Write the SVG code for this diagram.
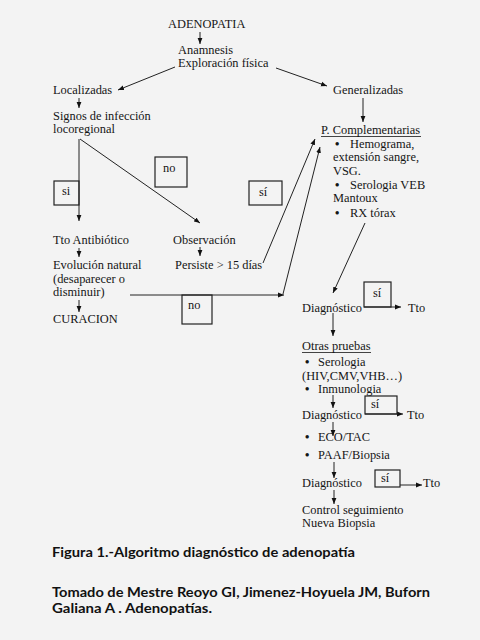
<svg xmlns="http://www.w3.org/2000/svg" width="480" height="640" viewBox="0 0 480 640">
<defs>
<style>
.t{font-family:"Liberation Serif","Times New Roman",serif;font-size:12.4px;fill:#151515}
.b{font-family:"Liberation Serif","Times New Roman",serif;font-size:12.4px;font-weight:bold;fill:#151515}
.c{font-family:Lato,"Open Sans",sans-serif;font-weight:bold;font-size:14px;fill:#111}
.ln{stroke:#222;stroke-width:1;fill:none}
.bx{stroke:#222;stroke-width:1.2;fill:none}
</style>
<marker id="ah" viewBox="0 0 10 10" refX="10" refY="5" markerWidth="6" markerHeight="6" orient="auto" markerUnits="userSpaceOnUse">
<path d="M0,1 L10,5 L0,9z" fill="#111"/>
</marker>
</defs>
<rect width="480" height="640" fill="#f3f3f3"/>

<g id="connectors">
<line class="ln" x1="200" y1="32" x2="200" y2="44" marker-end="url(#ah)"/>
<line class="ln" x1="175" y1="67" x2="118" y2="90" marker-end="url(#ah)"/>
<line class="ln" x1="276" y1="68" x2="327" y2="86" marker-end="url(#ah)"/>
<line class="ln" x1="79" y1="98" x2="79" y2="108" marker-end="url(#ah)"/>
<line class="ln" x1="363" y1="98" x2="363" y2="122" marker-end="url(#ah)"/>
<line class="ln" x1="79" y1="139" x2="79" y2="221" marker-end="url(#ah)"/>
<line class="ln" x1="80" y1="139" x2="200" y2="223" marker-end="url(#ah)"/>
<line class="ln" x1="79" y1="248" x2="79" y2="257" marker-end="url(#ah)"/>
<line class="ln" x1="200" y1="247" x2="200" y2="256" marker-end="url(#ah)"/>
<line class="ln" x1="79" y1="300" x2="79" y2="312" marker-end="url(#ah)"/>
<line class="ln" x1="263" y1="263" x2="315" y2="139" marker-end="url(#ah)"/>
<line class="ln" x1="130" y1="295" x2="284" y2="295" marker-end="url(#ah)"/>
<line class="ln" x1="283" y1="294" x2="320" y2="147" marker-end="url(#ah)"/>
<line class="ln" x1="365" y1="223" x2="333" y2="293" marker-end="url(#ah)"/>
<line class="ln" x1="364" y1="307" x2="401" y2="307" marker-end="url(#ah)"/>
<line class="ln" x1="333" y1="313" x2="333" y2="336" marker-end="url(#ah)"/>
<line class="ln" x1="333" y1="395" x2="333" y2="408" marker-end="url(#ah)"/>
<line class="ln" x1="365" y1="414" x2="403" y2="414" marker-end="url(#ah)"/>
<line class="ln" x1="333" y1="422" x2="333" y2="436" marker-end="url(#ah)"/>
<line class="ln" x1="334" y1="462" x2="334" y2="478" marker-end="url(#ah)"/>
<line class="ln" x1="400" y1="485" x2="422" y2="485" marker-end="url(#ah)"/>
<line class="ln" x1="334" y1="490" x2="334" y2="504" marker-end="url(#ah)"/>
</g>

<g id="adenopatia"><text class="t" x="168" y="28">ADENOPATIA</text></g>
<g id="anamnesis"><text class="t" x="178" y="54">Anamnesis</text><text class="t" x="178" y="67">Exploración física</text></g>
<g id="localizadas"><text class="t" x="53" y="94">Localizadas</text></g>
<g id="generalizadas"><text class="t" x="333" y="94">Generalizadas</text></g>
<g id="signos"><text class="t" x="53" y="120">Signos de infección</text><text class="t" x="53" y="133">locoregional</text></g>
<g id="si1"><rect class="bx" x="54" y="181" width="25" height="24"/><text class="t" x="62" y="195">si</text></g>
<g id="no1"><rect class="bx" x="155" y="157" width="32" height="30"/><text class="t" x="163" y="172">no</text></g>
<g id="si2"><rect class="bx" x="249" y="181" width="33" height="24"/><text class="t" x="259" y="196">sí</text></g>
<g id="pcomp">
<text class="t" x="321" y="134">P. Complementarias</text>
<line x1="321" y1="136.5" x2="421" y2="136.5" stroke="#151515" stroke-width="0.8"/>
<text class="b" x="335" y="148">•</text><text class="t" x="350" y="148">Hemograma,</text>
<text class="t" x="333" y="161">extensión sangre,</text>
<text class="t" x="333" y="175">VSG.</text>
<text class="b" x="335" y="189">•</text><text class="t" x="350" y="189">Serologia VEB</text>
<text class="t" x="333" y="202">Mantoux</text>
<text class="b" x="335" y="217">•</text><text class="t" x="350" y="217">RX  tórax</text>
</g>
<g id="tto-antibiotico"><text class="t" x="53" y="244">Tto Antibiótico</text></g>
<g id="observacion"><text class="t" x="173" y="244">Observación</text></g>
<g id="evolucion"><text class="t" x="53" y="269">Evolución natural</text><text class="t" x="53" y="283">(desaparecer o</text><text class="t" x="53" y="296">disminuir)</text></g>
<g id="persiste"><text class="t" x="175" y="269">Persiste &gt; 15 días</text></g>
<g id="curacion"><text class="t" x="53" y="323">CURACION</text></g>
<g id="no2"><rect class="bx" x="182" y="295" width="30" height="29"/><text class="t" x="188" y="309">no</text></g>
<g id="diag1"><text class="t" x="302" y="312">Diagnóstico</text></g>
<g id="si3"><rect class="bx" x="364" y="282" width="27" height="25"/><text class="t" x="373" y="297">sí</text></g>
<g id="tto1"><text class="t" x="408" y="312">Tto</text></g>
<g id="otras">
<text class="t" x="302" y="350">Otras pruebas</text>
<line x1="302" y1="352.5" x2="371" y2="352.5" stroke="#151515" stroke-width="0.8"/>
<text class="b" x="305" y="366">•</text><text class="t" x="318" y="366">Serologia</text>
<text class="t" x="302" y="380">(HIV,CMV,VHB…)</text>
<text class="b" x="305" y="393">•</text><text class="t" x="318" y="393">Inmunologia</text>
</g>
<g id="diag2"><text class="t" x="302" y="419">Diagnóstico</text></g>
<g id="si4"><rect class="bx" x="365" y="396" width="32" height="18"/><text class="t" x="371" y="408">sí</text></g>
<g id="tto2"><text class="t" x="407" y="419">Tto</text></g>
<g id="pruebas2">
<text class="b" x="305" y="441">•</text><text class="t" x="318" y="441">ECO/TAC</text>
<text class="b" x="305" y="459">•</text><text class="t" x="318" y="459">PAAF/Biopsia</text>
</g>
<g id="diag3"><text class="t" x="302" y="487">Diagnóstico</text></g>
<g id="si5"><rect class="bx" x="375" y="470" width="25" height="17"/><text class="t" x="381" y="482">sí</text></g>
<g id="tto3"><text class="t" x="423" y="487">Tto</text></g>
<g id="control"><text class="t" x="302" y="514">Control seguimiento</text><text class="t" x="302" y="527">Nueva Biopsia</text></g>

<g id="caption">
<text class="c" x="52" y="557" textLength="303" lengthAdjust="spacingAndGlyphs">Figura 1.-Algoritmo diagnóstico de adenopatía</text>
<text class="c" x="52" y="597" textLength="378" lengthAdjust="spacingAndGlyphs">Tomado de Mestre Reoyo GI, Jimenez-Hoyuela  JM, Buforn</text>
<text class="c" x="52" y="613" textLength="160" lengthAdjust="spacingAndGlyphs">Galiana A . Adenopatías.</text>
</g>
</svg>
